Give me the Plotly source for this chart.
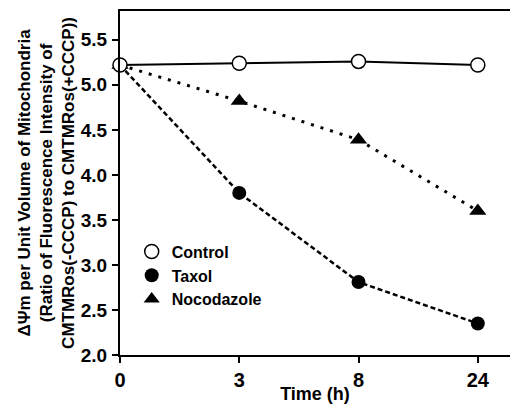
import plotly.graph_objects as go

times = ["0", "3", "8", "24"]
control = [5.22, 5.24, 5.26, 5.22]
taxol = [5.22, 3.80, 2.81, 2.35]
nocodazole = [5.22, 4.82, 4.39, 3.60]
y_ticks = [2.0, 2.5, 3.0, 3.5, 4.0, 4.5, 5.0, 5.5]

FONT = "Liberation Sans Narrow, Arial Narrow, Liberation Sans, sans-serif"
x_pos = list(range(len(times)))

fig = go.Figure()
series = [
    ("Taxol", taxol, "5px,3px", 2.5, dict(symbol="circle", color="black", size=14)),
    ("Nocodazole", nocodazole, "3px,7px", 3, dict(symbol="triangle-up", color="black", size=15)),
    ("Control", control, "solid", 2, dict(symbol="circle", color="white", size=14,
                                          line=dict(color="black", width=1.5))),
]
for name, vals, dash, w, mk in series:
    fig.add_trace(go.Scatter(x=x_pos, y=vals, mode="lines+markers", name=name,
                             line=dict(color="black", width=w, dash=dash),
                             marker=mk, showlegend=False, cliponaxis=False))

legend_items = [
    ("Control", dict(symbol="circle", color="white", size=14, line=dict(color="black", width=1.5))),
    ("Taxol", dict(symbol="circle", color="black", size=14)),
    ("Nocodazole", dict(symbol="triangle-up", color="black", size=14)),
]
for name, mk in legend_items:
    fig.add_trace(go.Scatter(x=[None], y=[None], mode="markers", name=name, marker=mk))

fig.update_layout(
    width=510, height=404,
    margin=dict(l=120, r=0, t=11, b=47),
    plot_bgcolor="white", paper_bgcolor="white",
    font=dict(family=FONT, color="black", size=16),
    showlegend=True,
    legend=dict(x=0.03, y=0.35, xanchor="left", yanchor="top", bgcolor="rgba(0,0,0,0)",
                font=dict(family=FONT, size=16, weight="bold"), tracegroupgap=0,
                itemwidth=30),
    xaxis=dict(
        tickmode="array", tickvals=x_pos, ticktext=times,
        range=[0, 3.27], showgrid=False, zeroline=False,
        showline=True, linecolor="black", linewidth=2, mirror=True,
        ticks="outside", ticklen=6, tickwidth=1.5, tickcolor="black",
        tickfont=dict(family=FONT, size=20, weight="bold"),
        title=dict(text="Time (h)", font=dict(family=FONT, size=18, weight="bold"), standoff=0),
    ),
    yaxis=dict(
        range=[2.0, 5.82], tickvals=y_ticks, ticktext=[f"{v:.1f}" for v in y_ticks],
        showgrid=False, zeroline=False,
        showline=True, linecolor="black", linewidth=2,
        ticks="outside", ticklen=6, tickwidth=1.5, tickcolor="black", ticklabelstandoff=1,
        tickfont=dict(family=FONT, size=19, weight="bold"),
    ),
    annotations=[dict(
        text="ΔΨm per Unit Volume of Mitochondria<br>(Ratio of Fluorescence Intensity of<br>CMTMRos(-CCCP) to CMTMRos(+CCCP))",
        xref="paper", yref="paper", x=-0.19, y=0.5, xanchor="center", yanchor="middle",
        textangle=-90, showarrow=False, align="center",
        font=dict(family=FONT, size=17, weight="bold"),
    )],
)

fig.write_html("out.html")
